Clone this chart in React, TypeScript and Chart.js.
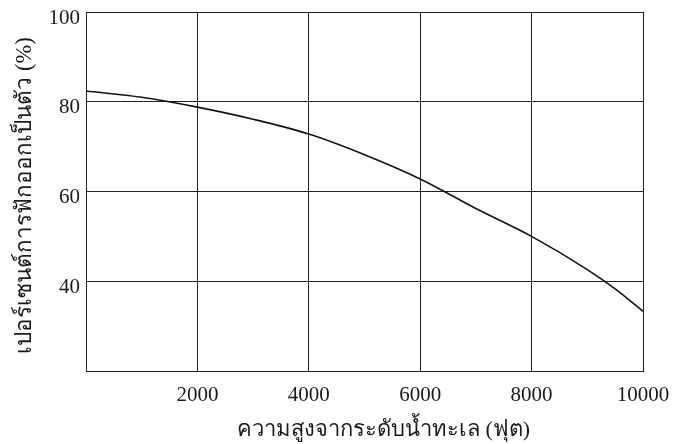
import React, { useEffect, useRef } from "react";
import { Chart, registerables } from "chart.js";

Chart.register(...registerables);

const altitudes = [0, 1000, 2000, 3000, 4000, 5000, 6000, 7000, 8000, 9000, 9500, 10000];
const hatchPercent = [82.4, 81.0, 78.8, 76.1, 72.8, 68.2, 62.8, 56.2, 50.0, 42.6, 38.3, 33.3];
const xTickLabels = ["", "2000", "4000", "6000", "8000", "10000"];
const yTickLabels = ["", "40", "60", "80", "100"];
const xTitle = "ความสูงจากระดับน้ำทะเล (ฟุต)";
const yTitle = "เปอร์เซนต์การฟักออกเป็นตัว (%)";

const FONT = '"Liberation Serif", "DejaVu Serif", serif';

const titlePlugin = {
  id: "axisTitlesCustom",
  afterDraw(chart: any) {
    const { ctx, chartArea } = chart;
    ctx.save();
    ctx.fillStyle = "#1a1a1a";
    ctx.font = `22px ${FONT}`;
    ctx.textAlign = "center";
    ctx.textBaseline = "middle";
    ctx.fillText(xTitle, (chartArea.left + chartArea.right) / 2 + 19, 430);
    ctx.font = `22.5px ${FONT}`;
    ctx.translate(25, (chartArea.top + chartArea.bottom) / 2 + 4);
    ctx.rotate(-Math.PI / 2);
    ctx.fillText(yTitle, 0, 0);
    ctx.restore();
  },
};

export default function App() {
  const ref = useRef<HTMLCanvasElement | null>(null);
  useEffect(() => {
    if (!ref.current) return;
    const chart = new Chart(ref.current, {
      type: "line",
      data: {
        datasets: [
          {
            data: altitudes.map((x, i) => ({ x, y: hatchPercent[i] })),
            borderColor: "#111",
            borderWidth: 1.6,
            pointRadius: 0,
            cubicInterpolationMode: "monotone",
            fill: false,
          },
        ],
      },
      options: {
        animation: false,
        responsive: false,
        maintainAspectRatio: false,
        layout: { padding: { left: 0, right: 31, top: 12, bottom: 0 } },
        plugins: { legend: { display: false }, tooltip: { enabled: false } },
        scales: {
          x: {
            type: "linear",
            min: 0,
            max: 10000,
            afterFit: (s: any) => {
              s.height = 73;
              s.paddingLeft = 0;
              s.paddingRight = 0;
            },
            ticks: {
              stepSize: 2000,
              autoSkip: false,
              maxRotation: 0,
              padding: 12,
              color: "#1a1a1a",
              font: { family: FONT, size: 21 },
              callback: (_v: any, i: number) => xTickLabels[i] ?? "",
            },
            grid: { color: "#222", lineWidth: 1, drawTicks: false },
            border: { color: "#222", width: 1 },
          },
          y: {
            min: 20,
            max: 100,
            afterFit: (s: any) => {
              s.width = 86;
              s.paddingTop = 0;
              s.paddingBottom = 0;
            },
            ticks: {
              stepSize: 20,
              padding: 6,
              labelOffset: 6,
              color: "#1a1a1a",
              font: { family: FONT, size: 21 },
              callback: (_v: any, i: number) => yTickLabels[i] ?? "",
            },
            grid: { color: "#222", lineWidth: 1, drawTicks: false },
            border: { color: "#222", width: 1 },
          },
        },
      },
      plugins: [titlePlugin],
    } as any);
    return () => chart.destroy();
  }, []);
  return (
    <div style={{ position: "fixed", left: 0, top: 0, width: 674, height: 444, background: "#fff" }}>
      <canvas ref={ref} width={674} height={444} style={{ width: 674, height: 444 }} />
    </div>
  );
}
